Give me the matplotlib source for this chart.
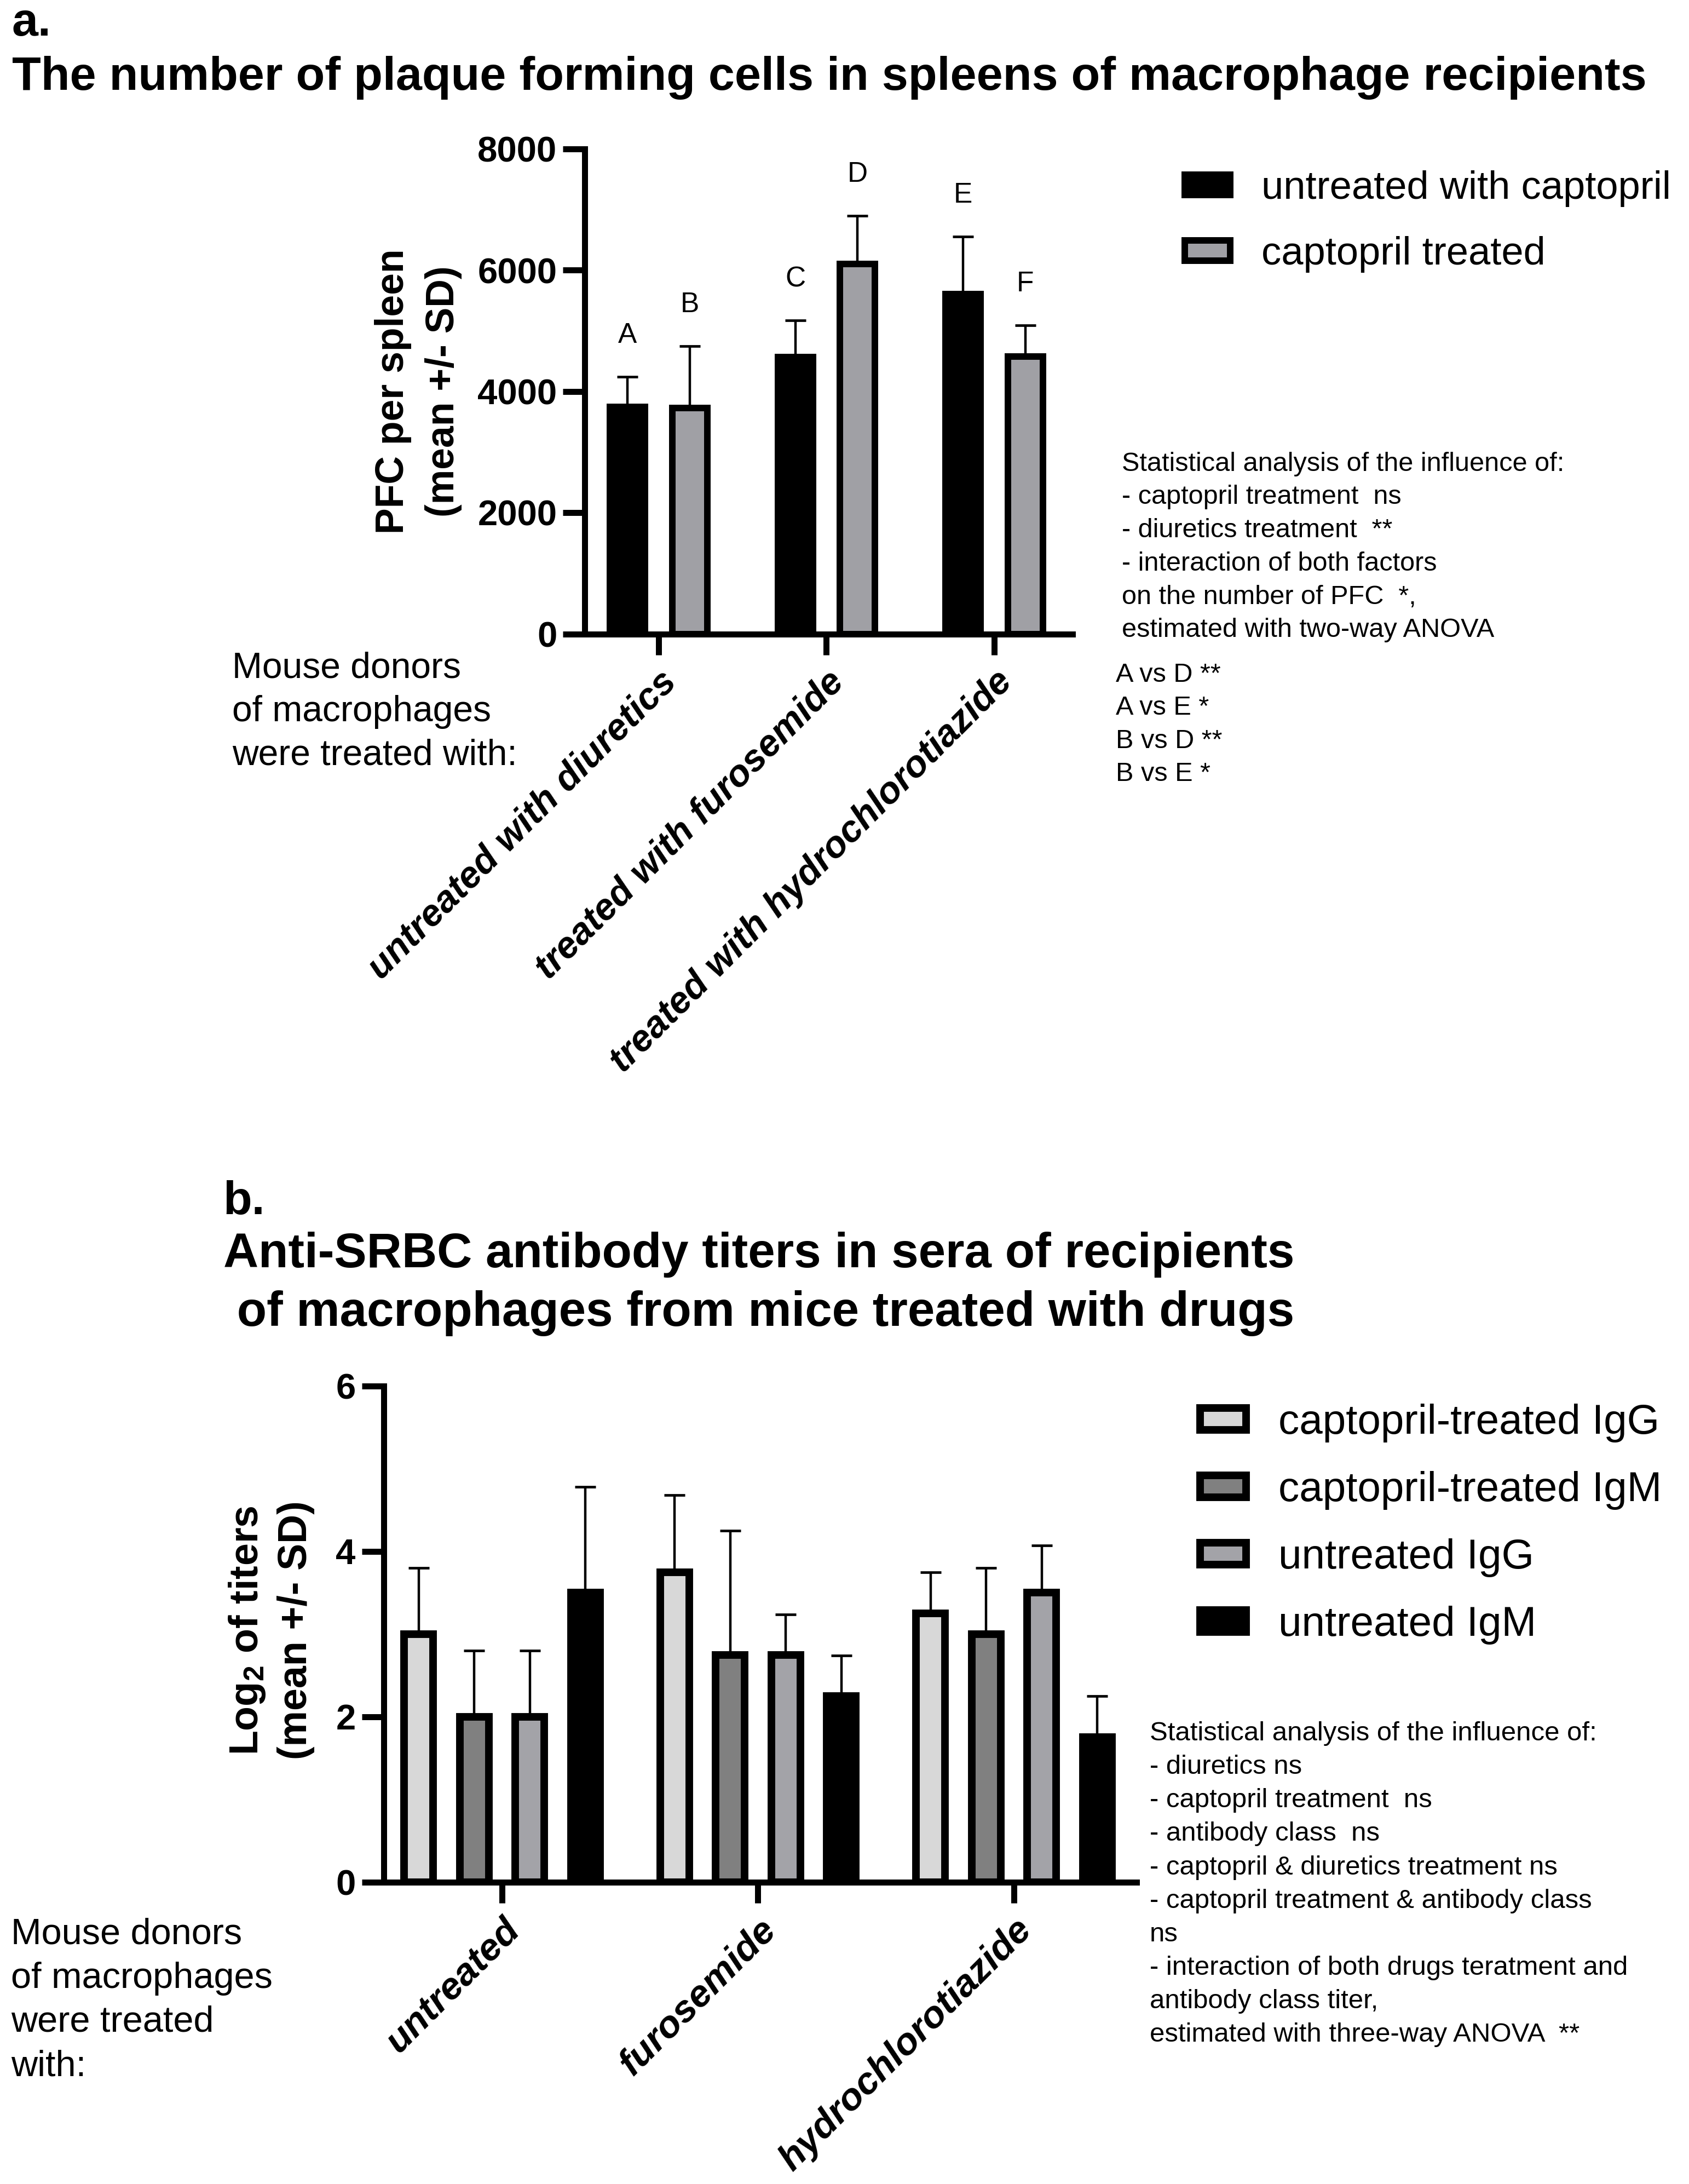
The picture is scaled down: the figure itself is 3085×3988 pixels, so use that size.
import numpy as np
import matplotlib
matplotlib.use("Agg")
import matplotlib.pyplot as plt
from matplotlib.transforms import ScaledTranslation

plt.rcParams['font.family'] = ['Liberation Sans', 'DejaVu Sans']
plt.rcParams['mathtext.fontset'] = 'custom'
plt.rcParams['mathtext.rm'] = 'Liberation Sans'
plt.rcParams['mathtext.bf'] = 'Liberation Sans:bold'
plt.rcParams['mathtext.it'] = 'Liberation Sans:italic'

# ==============================================================================
# DATA - panel a (PFC per spleen)
# ==============================================================================
groups_a = ["untreated with diuretics", "treated with furosemide",
            "treated with hydrochlorotiazide"]
series_a = ["untreated with captopril", "captopril treated"]
pfc_untreated = [3750, 4570, 5610]
pfc_untreated_sd = [494, 601, 946]
pfc_captopril = [3730, 6100, 4580]
pfc_captopril_sd = [1020, 800, 515]
letters_untreated = ["A", "C", "E"]
letters_captopril = ["B", "D", "F"]

stats_a = ("Statistical analysis of the influence of:\n"
           "- captopril treatment  ns\n"
           "- diuretics treatment  **\n"
           "- interaction of both factors\n"
           "on the number of PFC  *,\n"
           "estimated with two-way ANOVA")
posthoc_a = "A vs D **\nA vs E *\nB vs D **\nB vs E *"

# ==============================================================================
# DATA - panel b (antibody titers)
# ==============================================================================
groups_b = ["untreated", "furosemide", "hydrochlorotiazide"]
series_b = ["captopril-treated IgG", "captopril-treated IgM",
            "untreated IgG", "untreated IgM"]
titer_cap_igg = [3.0, 3.75, 3.25]
titer_cap_igg_sd = [0.8, 0.93, 0.5]
titer_cap_igm = [2.0, 2.75, 3.0]
titer_cap_igm_sd = [0.8, 1.5, 0.8]
titer_unt_igg = [2.0, 2.75, 3.5]
titer_unt_igg_sd = [0.8, 0.49, 0.57]
titer_unt_igm = [3.5, 2.25, 1.75]
titer_unt_igm_sd = [1.28, 0.49, 0.5]

stats_b = ("Statistical analysis of the influence of:\n"
           "- diuretics ns\n"
           "- captopril treatment  ns\n"
           "- antibody class  ns\n"
           "- captopril & diuretics treatment ns\n"
           "- captopril treatment & antibody class\n"
           "ns\n"
           "- interaction of both drugs teratment and\n"
           "antibody class titer,\n"
           "estimated with three-way ANOVA  **")

W, H = 3085, 3988
fig = plt.figure(figsize=(W / 100, H / 100), dpi=100)


def fx(px):
    return px / W


def fy(py):
    return 1 - py / H


def style_axis(ax, xlabels, xfont, xshift):
    ax.spines['top'].set_visible(False)
    ax.spines['right'].set_visible(False)
    for s in ('left', 'bottom'):
        ax.spines[s].set_linewidth(7.9)
    ax.tick_params(axis='y', length=28.5, width=7.9, pad=8, labelsize=47)
    ax.tick_params(axis='x', length=27.5, width=7.9, pad=12)
    ax.set_xticks(np.arange(len(xlabels)))
    ax.set_xticklabels(xlabels, rotation=45, ha='right', va='top',
                       fontsize=xfont, fontweight='bold', fontstyle='italic')
    for lab in ax.get_yticklabels():
        lab.set_fontweight('bold')
    # labels end a little to the right of the tick, as in the original
    off = ScaledTranslation(xshift / 100, 0, fig.dpi_scale_trans)
    for lab in ax.get_xticklabels():
        lab.set_transform(lab.get_transform() + off)


# ==============================================================================
# PANEL A
# ==============================================================================
ax_a = fig.add_axes([fx(1068), fy(1158), 891 / W, 886 / H])
x = np.arange(len(groups_a))
w_a, off_a = 0.209, 0.185
bar_kw = dict(edgecolor='black', linewidth=8.6, zorder=3)
err_kw = dict(fmt='none', ecolor='black', elinewidth=3.2, capsize=13.7,
              capthick=3.4, zorder=2)

b1 = ax_a.bar(x - off_a, pfc_untreated, w_a, color='black', label=series_a[0], **bar_kw)
b2 = ax_a.bar(x + off_a, pfc_captopril, w_a, color='#a0a0a5', label=series_a[1], **bar_kw)
ax_a.errorbar(x - off_a, pfc_untreated, yerr=[np.zeros(3), pfc_untreated_sd], **err_kw)
ax_a.errorbar(x + off_a, pfc_captopril, yerr=[np.zeros(3), pfc_captopril_sd], **err_kw)

for xs, means, sds, letters in [(x - off_a, pfc_untreated, pfc_untreated_sd, letters_untreated),
                                (x + off_a, pfc_captopril, pfc_captopril_sd, letters_captopril)]:
    for xi, m, s, l in zip(xs, means, sds, letters):
        ax_a.annotate(l, (xi, m + s), xytext=(0, 54), textcoords='offset points',
                      ha='center', va='center', fontsize=37)

ax_a.set_xlim(-0.44, 2.467)
ax_a.set_ylim(0, 8000)
ax_a.set_yticks([0, 2000, 4000, 6000, 8000])
style_axis(ax_a, groups_a, 49, 45)

ax_a.legend(handles=[b1, b2], labels=series_a, loc='upper left',
            bbox_to_anchor=(fx(2164), fy(311)), bbox_transform=fig.transFigure,
            frameon=False, fontsize=52, handlelength=1.15, handleheight=0.41,
            handletextpad=0.79, labelspacing=0.735, borderpad=0, borderaxespad=0)

fig.text(fx(764), fy(715), "PFC per spleen\n(mean +/- SD)", rotation=90,
         ha='center', va='center', fontsize=51.5, fontweight='bold', linespacing=1.44)

fig.text(fx(22), fy(65), "a.", fontsize=62, fontweight='bold', va='baseline')
fig.text(fx(22), fy(164), "The number of plaque forming cells in spleens of macrophage recipients",
         fontsize=62.2, fontweight='bold', va='baseline')
# multi-line texts: anchored on the baseline of their last line
fig.text(fx(2049), fy(1163.3), stats_a, fontsize=35, va='baseline', linespacing=1.45)
fig.text(fx(2038), fy(1426), posthoc_a, fontsize=35, va='baseline', linespacing=1.44)
fig.text(fx(424), fy(1396.7), "Mouse donors\nof macrophages\nwere treated with:",
         fontsize=47.5, va='baseline', linespacing=1.365)

# ==============================================================================
# PANEL B
# ==============================================================================
ax_b = fig.add_axes([fx(700.5), fy(3436.6), 1375 / W, 905.6 / H])
x = np.arange(len(groups_b))
w_b, step_b = 0.113, 0.217
bar_kw_b = dict(edgecolor='black', linewidth=10, zorder=3)
colors_b = ['#d8d8d8', '#808080', '#a3a3a8', 'black']
means_b = [titer_cap_igg, titer_cap_igm, titer_unt_igg, titer_unt_igm]
sds_b = [titer_cap_igg_sd, titer_cap_igm_sd, titer_unt_igg_sd, titer_unt_igm_sd]

handles_b = []
for i, (m, s, c, lab) in enumerate(zip(means_b, sds_b, colors_b, series_b)):
    pos = x + (i - 1.5) * step_b
    hb = ax_b.bar(pos, m, w_b, color=c, label=lab, **bar_kw_b)
    ax_b.errorbar(pos, m, yerr=[np.zeros(3), s], **err_kw)
    handles_b.append(hb)

ax_b.set_xlim(-0.463, 2.478)
ax_b.set_ylim(0, 6)
ax_b.set_yticks([0, 2, 4, 6])
style_axis(ax_b, groups_b, 50, 45)

ax_b.legend(handles=handles_b, labels=series_b, loc='upper left',
            bbox_to_anchor=(fx(2191.5), fy(2563)), bbox_transform=fig.transFigure,
            frameon=False, fontsize=55, handlelength=1.1, handleheight=0.43,
            handletextpad=0.78, labelspacing=0.68, borderpad=0, borderaxespad=0)

fig.text(fx(495), fy(2977), "Log$_\\mathbf{2}$ of titers\n(mean +/- SD)", rotation=90,
         ha='center', va='center', fontsize=53, fontweight='bold', linespacing=1.35)

fig.text(fx(407), fy(2217), "b.", fontsize=62, fontweight='bold', va='baseline')
fig.text(fx(408), fy(2420.5),
         "Anti-SRBC antibody titers in sera of recipients\n of macrophages from mice treated with drugs",
         fontsize=64, fontweight='bold', va='baseline', linespacing=1.345)
fig.text(fx(2100), fy(3728), stats_b, fontsize=35.4, va='baseline', linespacing=1.46)
fig.text(fx(20), fy(3790), "Mouse donors\nof macrophages\nwere treated\nwith:",
         fontsize=48, va='baseline', linespacing=1.38)

plt.savefig("out.png", dpi=100)
plt.close()
